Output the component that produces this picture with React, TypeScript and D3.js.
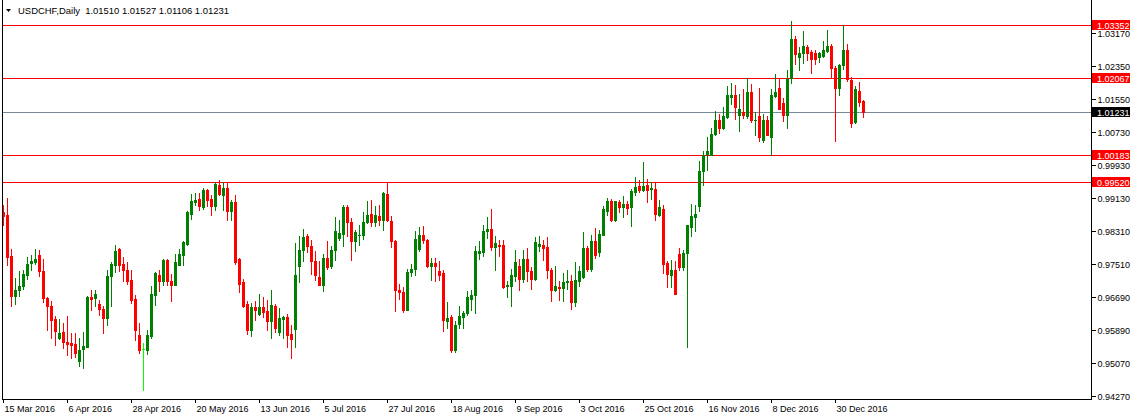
import React from "react";
import * as d3 from "d3";

const symbolTitle = "USDCHF,Daily";
const lastOHLC = [1.0151, 1.01527, 1.01106, 1.01231];

const xTickLabels = [
  "15 Mar 2016", "6 Apr 2016", "28 Apr 2016", "20 May 2016", "13 Jun 2016", "5 Jul 2016", "27 Jul 2016",
  "18 Aug 2016", "9 Sep 2016", "3 Oct 2016", "25 Oct 2016", "16 Nov 2016", "8 Dec 2016", "30 Dec 2016",
];
const barsPerLabel = 16;

const yTicks = [1.0317, 1.0235, 1.0155, 1.0073, 0.9993, 0.9913, 0.9831, 0.9751, 0.9669, 0.9589, 0.9507, 0.9427];

const levelLines = [1.03352, 1.02067, 1.00183, 0.9952];
const bidPrice = 1.01231;

const opens = [
  0.98788, 0.98714, 0.97691, 0.96726, 0.96856, 0.96955, 0.97242, 0.97519, 0.97543, 0.97732,
  0.9734, 0.9667, 0.96481, 0.96162, 0.95688, 0.95843, 0.95598, 0.95574, 0.95549, 0.95138,
  0.95418, 0.95482, 0.96684, 0.9666, 0.9653, 0.96407, 0.96179, 0.972, 0.97487, 0.97872,
  0.97511, 0.97364, 0.97102, 0.96653, 0.9577, 0.95418, 0.95401, 0.95745, 0.96751, 0.97242,
  0.97088, 0.9761, 0.97095, 0.96996, 0.97487, 0.97732, 0.98002, 0.98738, 0.99016, 0.99107,
  0.9891, 0.99327, 0.99107, 0.98918, 0.9945, 0.99205, 0.99369, 0.98795, 0.99026, 0.97634,
  0.97053, 0.9653, 0.95892, 0.96439, 0.96277, 0.96439, 0.96341, 0.9612, 0.96481, 0.95836,
  0.96145, 0.96218, 0.95794, 0.95924, 0.97445, 0.97838, 0.98181, 0.97953, 0.97585, 0.97185,
  0.96996, 0.97651, 0.97445, 0.97838, 0.98132, 0.98248, 0.98903, 0.98535, 0.98059, 0.98206,
  0.98206, 0.98525, 0.98738, 0.98535, 0.98689, 0.98574, 0.99229, 0.98567, 0.98076, 0.96873,
  0.96824, 0.96383, 0.97298, 0.97381, 0.9788, 0.98223, 0.981, 0.97445, 0.97528, 0.97322,
  0.97283, 0.9612, 0.96194, 0.95401, 0.96039, 0.96218, 0.96301, 0.96653, 0.96734, 0.97774,
  0.97789, 0.98304, 0.9837, 0.97912, 0.97978, 0.97978, 0.96955, 0.96955, 0.97217, 0.97462,
  0.97144, 0.97634, 0.9734, 0.97144, 0.97936, 0.97978, 0.97912, 0.97364, 0.96856, 0.96939,
  0.96915, 0.97053, 0.97095, 0.96562, 0.97095, 0.97176, 0.97897, 0.97389, 0.98076, 0.97789,
  0.98223, 0.98812, 0.99057, 0.98591, 0.99033, 0.98893, 0.98984, 0.98893, 0.99261, 0.99426,
  0.99327, 0.9945, 0.99335, 0.99352, 0.98697, 0.98861, 0.97528, 0.97242, 0.97364, 0.97757,
  0.97421, 0.97764, 0.98402, 0.98657, 0.98935, 0.99777, 1.00211, 1.00186, 1.00694, 1.01021,
  1.00842, 1.01102, 1.01592, 1.01642, 1.01151, 1.01224, 1.01126, 1.01725, 1.01028, 1.01119,
  1.00554, 1.01021, 1.00611, 1.01617, 1.01806, 1.01455, 1.01151, 1.02051, 1.03008, 1.02574,
  1.02665, 1.02819, 1.02697, 1.02665, 1.02574, 1.02591, 1.02721, 1.02837, 1.02297, 1.01806,
  1.02378, 1.02739, 1.02002, 1.00989, 1.0174, 1.0151,
];

const highs = [
  0.98959, 0.99124, 0.97872, 0.97161, 0.97322, 0.97364, 0.97676, 0.97732, 0.97872, 0.97855,
  0.97634, 0.96694, 0.96603, 0.96235, 0.96154, 0.96056, 0.96235, 0.95826, 0.95811, 0.95688,
  0.9585, 0.96726, 0.96873, 0.96873, 0.96628, 0.96481, 0.97347, 0.97543, 0.97978, 0.97897,
  0.97676, 0.97543, 0.97347, 0.96734, 0.96056, 0.95565, 0.95892, 0.96955, 0.97298, 0.97364,
  0.97634, 0.97634, 0.97266, 0.97749, 0.9788, 0.98076, 0.98812, 0.99229, 0.99246, 0.99246,
  0.99369, 0.99352, 0.99205, 0.99507, 0.99573, 0.99517, 0.99517, 0.99082, 0.99205, 0.97651,
  0.97144, 0.96603, 0.96547, 0.96586, 0.96775, 0.96702, 0.96628, 0.96873, 0.96522, 0.96424,
  0.96235, 0.96284, 0.96015, 0.98019, 0.98199, 0.9837, 0.98248, 0.98083, 0.97813, 0.97585,
  0.97757, 0.98076, 0.97936, 0.98658, 0.98591, 0.98959, 0.98959, 0.98633, 0.98346, 0.98468,
  0.9878, 0.99057, 0.99082, 0.98935, 0.98959, 0.99271, 0.99517, 0.98672, 0.981, 0.97021,
  0.96939, 0.97381, 0.97511, 0.98304, 0.98412, 0.98444, 0.98112, 0.97651, 0.97651, 0.97585,
  0.97347, 0.96579, 0.9626, 0.96096, 0.96481, 0.96341, 0.96848, 0.96873, 0.97936, 0.98076,
  0.98451, 0.98648, 0.98861, 0.98199, 0.981, 0.981, 0.97095, 0.97389, 0.97855, 0.97634,
  0.97855, 0.97897, 0.97421, 0.98167, 0.98199, 0.981, 0.98157, 0.97406, 0.97445, 0.97095,
  0.97283, 0.97364, 0.97242, 0.97553, 0.97462, 0.98289, 0.97936, 0.98223, 0.98387, 0.98346,
  0.98918, 0.99124, 0.99099, 0.99057, 0.99082, 0.99164, 0.9904, 0.99344, 0.9963, 0.99573,
  0.99997, 0.99597, 0.99507, 0.99507, 0.99082, 0.98942, 0.97568, 0.97602, 0.97568, 0.97897,
  0.97855, 0.98468, 0.98976, 0.98942, 1.00022, 1.00267, 1.00611, 1.00842, 1.01249, 1.01168,
  1.01357, 1.01862, 1.01929, 1.01887, 1.01676, 1.01781, 1.02051, 1.01904, 1.01234, 1.01823,
  1.01168, 1.01126, 1.01781, 1.0215, 1.02027, 1.01578, 1.02248, 1.03457, 1.03089, 1.02819,
  1.03212, 1.02869, 1.02739, 1.02739, 1.02707, 1.02967, 1.03229, 1.02886, 1.02353, 1.02412,
  1.03359, 1.02903, 1.02083, 1.01855, 1.0197, 1.01527,
];

const lows = [
  0.98468, 0.97487, 0.96481, 0.9653, 0.96726, 0.96891, 0.97136, 0.97347, 0.97511, 0.97217,
  0.96562, 0.95892, 0.95703, 0.95524, 0.95664, 0.95458, 0.95279, 0.95212, 0.95237, 0.95016,
  0.94967, 0.95467, 0.96366, 0.96464, 0.96267, 0.95826, 0.96015, 0.96464, 0.97308, 0.9734,
  0.97088, 0.97007, 0.96547, 0.95646, 0.9532, 0.9442, 0.95303, 0.95688, 0.96489, 0.96832,
  0.9699, 0.96982, 0.96603, 0.9698, 0.9747, 0.97487, 0.9796, 0.98616, 0.98942, 0.9882,
  0.98861, 0.98935, 0.98714, 0.98837, 0.99188, 0.98837, 0.98591, 0.98574, 0.97504, 0.96807,
  0.96439, 0.95794, 0.95752, 0.96137, 0.9626, 0.96218, 0.95892, 0.95703, 0.9585, 0.9577,
  0.95703, 0.95482, 0.95197, 0.95482, 0.97053, 0.97568, 0.97789, 0.97266, 0.97102, 0.9699,
  0.96832, 0.97381, 0.97406, 0.97592, 0.981, 0.97936, 0.98199, 0.9761, 0.97813, 0.97978,
  0.98125, 0.9851, 0.98427, 0.98427, 0.98468, 0.98329, 0.98549, 0.97912, 0.96341, 0.96645,
  0.96317, 0.96366, 0.972, 0.97242, 0.97813, 0.98019, 0.9743, 0.97102, 0.97078, 0.97119,
  0.95875, 0.95948, 0.95359, 0.95359, 0.95933, 0.95933, 0.9626, 0.96383, 0.96301, 0.97634,
  0.97691, 0.98142, 0.97838, 0.97364, 0.97708, 0.96915, 0.96684, 0.96481, 0.97088, 0.96873,
  0.97053, 0.97088, 0.96898, 0.97102, 0.97813, 0.9761, 0.97161, 0.96586, 0.96832, 0.96611,
  0.96603, 0.96898, 0.964, 0.96464, 0.96955, 0.97168, 0.97322, 0.97322, 0.97651, 0.97691,
  0.98206, 0.98714, 0.98567, 0.98549, 0.9878, 0.98648, 0.98738, 0.98427, 0.99205, 0.99271,
  0.99286, 0.99016, 0.99107, 0.98574, 0.98689, 0.97283, 0.9693, 0.9693, 0.96768, 0.97364,
  0.97347, 0.95482, 0.98181, 0.98321, 0.98795, 0.9945, 0.99818, 1.00174, 1.00677, 1.00719,
  1.00824, 1.01087, 1.0143, 1.01062, 1.00775, 1.01087, 1.0107, 1.00989, 1.0066, 1.00513,
  1.00498, 1.0066, 1.00186, 1.01592, 1.01291, 1.01004, 1.00842, 1.01946, 1.02395, 1.02248,
  1.02437, 1.025, 1.02191, 1.02412, 1.02451, 1.02574, 1.02707, 1.02069, 1.00513, 1.01642,
  1.02272, 1.01985, 1.00856, 1.00964, 1.01372, 1.01106,
];

const closes = [
  0.98689, 0.97666, 0.96726, 0.96873, 0.96972, 0.97266, 0.97511, 0.97568, 0.97634, 0.97322,
  0.9666, 0.96481, 0.96137, 0.95875, 0.95811, 0.95581, 0.95549, 0.95524, 0.95335, 0.95401,
  0.95499, 0.96684, 0.96653, 0.96775, 0.964, 0.9617, 0.97217, 0.97511, 0.9783, 0.97487,
  0.97347, 0.97088, 0.96628, 0.95892, 0.95401, 0.95418, 0.9577, 0.96775, 0.97283, 0.97095,
  0.9761, 0.97088, 0.96996, 0.97553, 0.97757, 0.98044, 0.9877, 0.99057, 0.99065, 0.98918,
  0.99327, 0.99082, 0.98918, 0.99475, 0.99222, 0.99369, 0.98795, 0.99026, 0.97543, 0.97021,
  0.96481, 0.95892, 0.96439, 0.96383, 0.96439, 0.96317, 0.96113, 0.96505, 0.95948, 0.96179,
  0.96211, 0.9577, 0.95679, 0.97242, 0.97838, 0.98167, 0.97936, 0.97568, 0.97242, 0.96996,
  0.97651, 0.9743, 0.97855, 0.98321, 0.98265, 0.98903, 0.98525, 0.98059, 0.98289, 0.98223,
  0.98535, 0.98714, 0.98535, 0.98714, 0.98574, 0.99246, 0.98574, 0.98059, 0.96856, 0.96807,
  0.96383, 0.97308, 0.97381, 0.98125, 0.98223, 0.98083, 0.97462, 0.97528, 0.97462, 0.97242,
  0.96137, 0.96186, 0.95401, 0.96015, 0.96235, 0.96301, 0.96694, 0.96734, 0.97813, 0.97813,
  0.98321, 0.9837, 0.97912, 0.98019, 0.97953, 0.96939, 0.9698, 0.97242, 0.97543, 0.97144,
  0.97634, 0.97322, 0.97144, 0.98034, 0.98002, 0.97897, 0.97347, 0.96856, 0.96972, 0.96905,
  0.9707, 0.97095, 0.96562, 0.97119, 0.9734, 0.97897, 0.97389, 0.98076, 0.97732, 0.9824,
  0.98861, 0.99057, 0.98591, 0.9904, 0.98893, 0.98984, 0.98878, 0.99286, 0.99384, 0.99327,
  0.99426, 0.99327, 0.99359, 0.98731, 0.9891, 0.97511, 0.97259, 0.97364, 0.96775, 0.97421,
  0.97781, 0.98451, 0.98672, 0.98738, 0.99794, 1.00169, 1.00285, 1.00702, 1.01021, 1.00842,
  1.01126, 1.01634, 1.01634, 1.01347, 1.01291, 1.01151, 1.01725, 1.01021, 1.01045, 1.00611,
  1.01021, 1.00677, 1.01642, 1.01725, 1.01315, 1.01151, 1.02027, 1.03008, 1.02657, 1.02682,
  1.02837, 1.02682, 1.02518, 1.02518, 1.02665, 1.02739, 1.02837, 1.02314, 1.01806, 1.02378,
  1.02739, 1.02027, 1.00954, 1.01781, 1.0147, 1.01231,
];

const W = 1134;
const H = 420;
const plotRight = 1091;
const plotBottom = 399;
const font = "'Liberation Sans', Arial, sans-serif";

const BULL = "#008000";
const BEAR = "#FF0000";
const DOJI = "#00FF00";
const LEVEL = "#FF0000";
const BID = "#778899";

export default function App() {
  const n = opens.length;
  const x = d3.scaleLinear().domain([0, n - 1]).range([3.5, 3.5 + 4 * (n - 1)]);
  const y = d3.scaleLinear().domain([0.9427, 1.0317]).range([396, 32.8]);
  const py = (p: number) => Math.round(y(p));

  const candles = d3.range(n).map((i) => {
    const o = opens[i], h = highs[i], l = lows[i], c = closes[i];
    const color = o === c ? DOJI : c > o ? BULL : BEAR;
    const cx = x(i);
    const yH = py(h), yL = py(l);
    const yTop = py(Math.max(o, c)), yBot = py(Math.min(o, c));
    return (
      <g key={i} fill={color}>
        <rect x={cx - 0.5} y={yH} width={1} height={Math.max(1, yL - yH + 1)} />
        <rect x={cx - 1.5} y={yTop} width={3} height={Math.max(1, yBot - yTop + 1)} />
      </g>
    );
  });

  const fmt = d3.format(".5f");

  const priceBox = (p: number, bg: string, key: string) => {
    const yy = py(p);
    return (
      <g key={key}>
        <rect x={plotRight + 1} y={yy - 5} width={38} height={10} fill={bg} />
        <text x={plotRight + 6} y={yy + 3.5} fill="#FFFFFF" fontSize={9} fontFamily={font}>
          {fmt(p)}
        </text>
      </g>
    );
  };

  const titleText = symbolTitle + "  " + lastOHLC.map((v) => fmt(v)).join(" ");

  return (
    <svg
      width={W}
      height={H}
      style={{ position: "fixed", left: 0, top: 0, background: "#FFFFFF" }}
      shapeRendering="crispEdges"
    >
      <rect x={0} y={0} width={W} height={H} fill="#FFFFFF" />

      {levelLines.map((lv, i) => (
        <line key={"lv" + i} x1={2} x2={plotRight} y1={py(lv) + 0.5} y2={py(lv) + 0.5} stroke={LEVEL} strokeWidth={1} />
      ))}
      <line x1={2} x2={plotRight} y1={py(bidPrice) + 0.5} y2={py(bidPrice) + 0.5} stroke={BID} strokeWidth={1} />

      {candles}

      {/* frame */}
      <line x1={2.5} x2={2.5} y1={0} y2={plotBottom + 0.5} stroke="#000" />
      <line x1={plotRight + 0.5} x2={plotRight + 0.5} y1={0} y2={plotBottom + 0.5} stroke="#000" />
      <line x1={2} x2={plotRight + 1} y1={plotBottom + 0.5} y2={plotBottom + 0.5} stroke="#000" />

      {/* right axis */}
      {yTicks.map((t, i) => {
        const yy = py(t);
        return (
          <g key={"yt" + i}>
            <line x1={plotRight + 1} x2={plotRight + 5} y1={yy + 0.5} y2={yy + 0.5} stroke="#000" />
            <text x={plotRight + 6.5} y={yy + 3.5} fontSize={9} fontFamily={font} fill="#000">
              {fmt(t)}
            </text>
          </g>
        );
      })}

      {levelLines.map((lv, i) => priceBox(lv, LEVEL, "pb" + i))}
      {priceBox(bidPrice, "#000000", "bidbox")}

      {/* bottom axis */}
      {xTickLabels.map((lab, i) => {
        const xx = Math.round(x(i * barsPerLabel) - 0.5);
        return (
          <g key={"xt" + i}>
            <line x1={xx + 0.5} x2={xx + 0.5} y1={plotBottom} y2={plotBottom + 4} stroke="#000" />
            <text x={xx + 1.5} y={412} fontSize={9} fontFamily={font} fill="#000">
              {lab}
            </text>
          </g>
        );
      })}

      {/* title */}
      <path d="M6,9 L11,9 L8.5,12 Z" fill="#000" shapeRendering="auto" />
      <text
        x={18}
        y={14}
        fontSize={9.8}
        fontFamily={font}
        fill="#000"
        textLength={211}
        lengthAdjust="spacingAndGlyphs"
        style={{ whiteSpace: "pre" }}
      >
        {titleText}
      </text>
    </svg>
  );
}
